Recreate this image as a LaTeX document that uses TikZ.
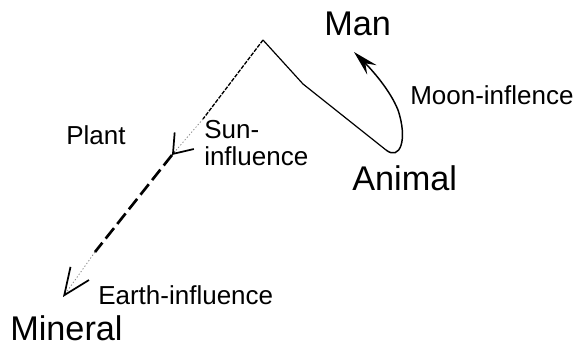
\documentclass[tikz,border=0pt]{standalone}
\usepackage{fontspec}
\setmainfont{Liberation Sans}
\usetikzlibrary{arrows.meta,calc}

\tikzset{
  kingdom/.style={anchor=north west, inner sep=0.75pt, font=\fontsize{25.7}{28}\selectfont},
  force/.style={anchor=north west, inner sep=0.75pt, font=\fontsize{19.5}{20.5}\selectfont, align=left},
  finedash/.style={line width=1pt, dash pattern={on 3pt off 1pt}},
  faintdot/.style={color=black!45, line width=0.6pt, dash pattern={on 1pt off 1.5pt}},
  heavydash/.style={line width=2pt, dash pattern={on 10pt off 4pt}},
  barb/.style 2 args={-{Straight Barb[length=#1, width=#2, line width=1.3pt]}}
}

\begin{document}
\begin{tikzpicture}[x=0.75pt,y=0.75pt,yscale=-1,xscale=1]
\path[use as bounding box] (0,0) rectangle (578,347);

% Text Node
\node[kingdom] (man) at (323,11) {Man};
% Text Node
\node[kingdom] (animal) at (351,164) {Animal};
% Text Node
\node[kingdom] (mineral) at (9,314) {Mineral};
% Text Node
\node[force] (plant) at (65,124) {Plant};
% Text Node
\node[force] (sun) at (203,119) {Sun-\\influence};
% Text Node
\node[force] (moon) at (409,84) {Moon-inflence};
% Text Node
\node[force] (earth) at (97,284) {Earth-influence};

\coordinate (top) at (263,40);
\coordinate (kink) at (303,84);
\coordinate (low) at (386,150);
\coordinate (mantip) at (354,52);
\coordinate (sunmid) at (203,119);
\coordinate (sunhead) at (172,155);
\coordinate (earthmid) at (95,252);
\coordinate (earthhead) at (63,297);

%Straight Lines
\draw[line width=0.9pt] (top) -- (kink) -- (low);
%Curve Lines
\draw[line width=1.1pt, -{Stealth[length=19pt, width=10pt, inset=7pt]}] (low) .. controls (400,161) and (408,140) .. (398,110) .. controls (390,90) and (372,70) .. (mantip);

%Straight Lines
\draw[finedash] (top) -- (sunmid);
\draw[faintdot] (sunmid) -- (sunhead);
\draw[barb={13pt}{19pt}] ($(sunhead)!0.1!(sunmid)$) -- (sunhead);
%Straight Lines
\draw[heavydash] (sunhead) -- (earthmid);
\draw[faintdot] (earthmid) -- (earthhead);
\draw[barb={20pt}{17pt}] ($(earthhead)!0.1!(earthmid)$) -- (earthhead);

\end{tikzpicture}
\end{document}
